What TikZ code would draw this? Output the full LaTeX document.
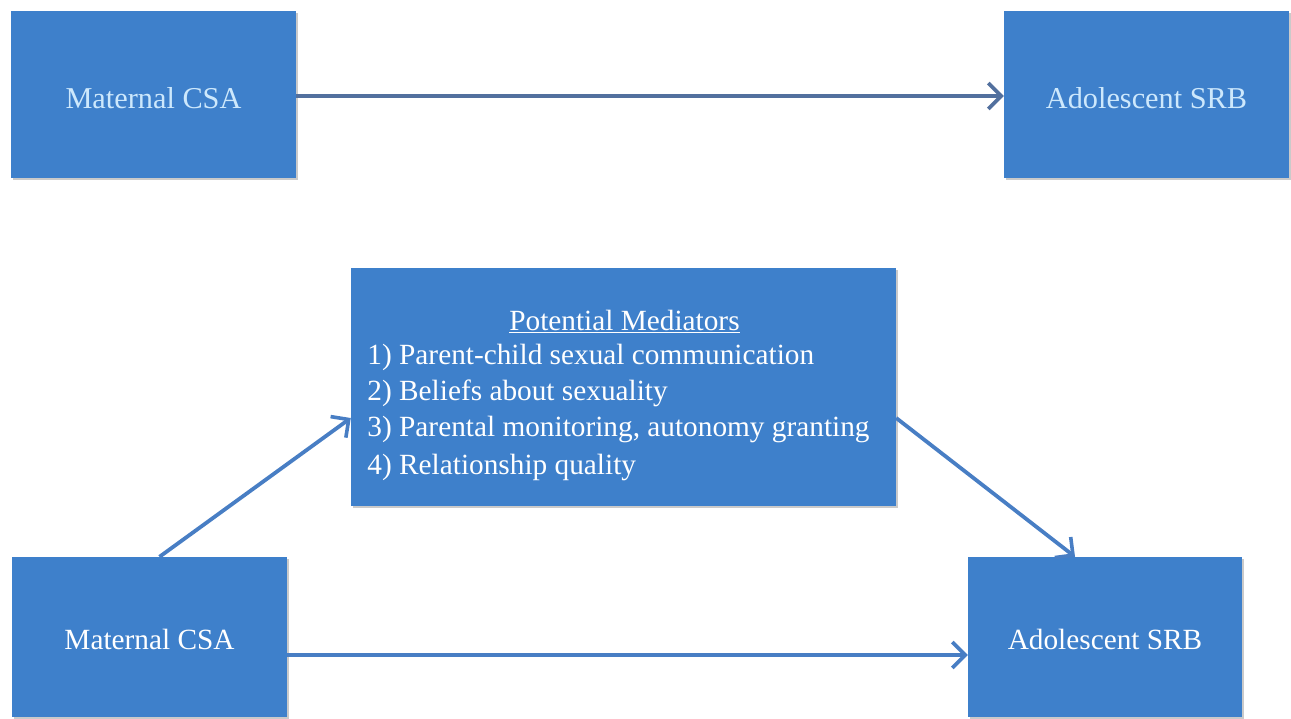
\documentclass[tikz,border=0pt]{standalone}
\usepackage{fontspec}
\setmainfont{Liberation Serif}
\usetikzlibrary{arrows.meta,shadows}
\definecolor{boxblue}{RGB}{62,128,203}
\definecolor{toparrow}{RGB}{82,112,158}
\definecolor{botarrow}{RGB}{72,126,196}
\definecolor{toptext}{RGB}{205,232,252}
\newcommand{\lowerby}[2]{\raisebox{-#1}[\height][\depth]{#2}}
\tikzset{
  box/.style={rectangle, fill=boxblue, draw=none, inner sep=0pt,
    drop shadow={shadow xshift=1.5pt, shadow yshift=-2pt, opacity=0.35, fill=black!60},
    font=\fontsize{29.3}{36}\selectfont, text=white},
  topbox/.style={box, minimum width=285pt, minimum height=167pt, text=toptext,
    font=\fontsize{30.3}{36}\selectfont},
  botbox/.style={box, minimum height=160pt},
  conn/.style={line width=3.8pt, -{Straight Barb[length=13pt,width=26pt,line width=3.6pt]}},
}
\begin{document}
\begin{tikzpicture}[x=1pt,y=-1pt]
\useasboundingbox (0,0) rectangle (1291,719);
% top row
\node[topbox] (tl) at (153.5,94.5) {\lowerby{3.5pt}{Maternal CSA}};
\node[topbox] (tr) at (1146.5,94.5) {\lowerby{3.5pt}{Adolescent SRB}};
\draw[conn, draw=toparrow] ([yshift=-1.5pt]tl.east) -- ([yshift=-1.5pt]tr.west);
% bottom
\node[box, minimum width=545pt, minimum height=238pt] (med) at (623.5,387)
  {\lowerby{8pt}{\renewcommand{\arraystretch}{1}\begin{tabular}{@{}l@{}}
   \multicolumn{1}{c}{\hspace{12pt}\underline{Potential Mediators}}\\[-2pt]
   1) Parent-child sexual communication\\
   2) Beliefs about sexuality\\
   3) Parental monitoring, autonomy granting\\[2pt]
   4) Relationship quality
   \end{tabular}}\kern10pt\relax};
\node[botbox, minimum width=275pt] (bl) at (149.5,637) {\lowerby{2.5pt}{Maternal CSA}};
\node[botbox, minimum width=274pt] (br) at (1105,637) {\lowerby{2.5pt}{Adolescent SRB}};
\draw[conn, draw=botarrow] ([yshift=-18pt]bl.east) -- ([yshift=-18pt]br.west);
\draw[conn, draw=botarrow] ([xshift=10pt]bl.north) -- ([yshift=-31pt]med.west);
\draw[conn, draw=botarrow] ([yshift=-31pt]med.east) -- ([xshift=-30pt]br.north);
\end{tikzpicture}
\end{document}
